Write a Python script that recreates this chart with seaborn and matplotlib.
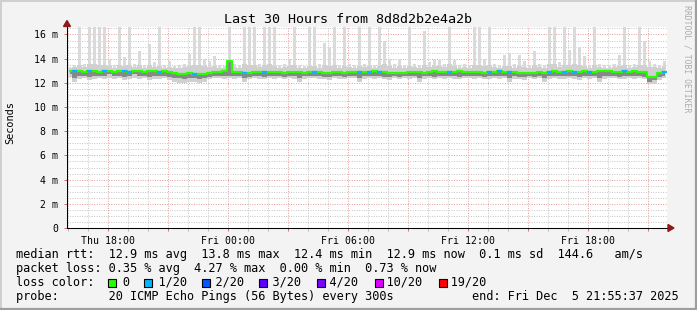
import numpy as np
import pandas as pd
import matplotlib
matplotlib.use("Agg")
import matplotlib.pyplot as plt
import matplotlib.dates as mdates
from matplotlib.ticker import FuncFormatter, MultipleLocator
from matplotlib.patches import Rectangle, Polygon
from matplotlib.lines import Line2D
import seaborn as sns

# ---------------- data (15-minute bins, 30 hours) ----------------
title = "Last 30 Hours from 8d8d2b2e4a2b"
start_time = "2025-12-04 15:55:37"
end_time = "2025-12-05 21:55:37"
bin_minutes = 15

median_ms = [13.0, 12.95, 12.95, 12.9, 12.95, 12.95, 12.9, 12.95, 12.95, 12.9,
             12.95, 12.95, 12.9, 12.95, 12.95, 12.9, 12.95, 12.95, 12.9, 12.95,
             12.9, 12.8, 12.75, 12.7, 12.8, 12.75, 12.7, 12.75, 12.85, 12.9,
             12.9, 12.95, 13.8, 12.9, 12.9, 12.85, 12.85, 12.9, 12.9, 12.9,
             12.9, 12.9, 12.9, 12.85, 12.9, 12.9, 12.9, 12.85, 12.9, 12.9,
             12.9, 12.85, 12.85, 12.9, 12.9, 12.85, 12.9, 12.9, 12.9, 12.9,
             12.9, 12.95, 12.9, 12.9, 12.85, 12.85, 12.8, 12.85, 12.9, 12.9,
             12.9, 12.85, 12.9, 12.95, 12.9, 12.9, 12.9, 12.9, 12.95, 12.9,
             12.9, 12.9, 12.9, 12.85, 12.9, 12.9, 12.95, 12.9, 12.9, 12.9,
             12.85, 12.85, 12.85, 12.85, 12.9, 12.8, 12.9, 12.95, 12.9, 12.9,
             12.95, 12.9, 12.9, 12.95, 12.9, 12.9, 13.0, 12.95, 12.95, 12.9,
             12.9, 12.95, 12.9, 12.95, 12.9, 12.9, 12.45, 12.5, 12.85, 12.9]

ping_max_ms = [13.3, 13.5, 16.7, 13.6, 16.7, 16.7, 16.7, 16.7, 14.0, 13.5,
               16.7, 14.1, 16.7, 13.6, 14.6, 13.5, 15.2, 13.7, 16.7, 13.5,
               13.8, 13.4, 13.5, 13.6, 14.4, 16.7, 16.7, 14.0, 13.8, 14.2,
               13.5, 13.4, 16.7, 13.6, 13.5, 16.7, 16.7, 16.7, 13.6, 16.7,
               16.7, 16.7, 13.5, 13.6, 14.0, 16.7, 13.5, 13.4, 16.7, 16.7,
               13.6, 15.3, 15.0, 16.7, 13.5, 16.7, 13.6, 13.5, 16.7, 13.6,
               16.7, 13.5, 16.7, 15.5, 14.0, 13.6, 14.0, 13.5, 16.7, 13.6,
               13.5, 16.3, 13.7, 14.0, 13.9, 13.6, 16.7, 13.9, 13.5, 13.6,
               13.5, 16.7, 16.7, 14.0, 16.7, 13.6, 13.5, 14.3, 14.5, 13.6,
               14.3, 13.8, 13.5, 14.6, 13.6, 13.5, 16.7, 16.7, 13.7, 16.7,
               14.7, 16.7, 15.0, 14.2, 13.5, 16.7, 13.6, 13.5, 13.4, 13.6,
               14.3, 16.7, 13.5, 13.6, 16.7, 15.5, 13.8, 13.6, 13.5, 13.8]

ping_hi_ms = [13.2, 13.3, 13.5, 13.3, 13.6, 13.6, 13.5, 13.5, 13.4, 13.2,
              13.5, 13.4, 13.5, 13.3, 13.5, 13.2, 13.5, 13.3, 13.4, 13.2,
              13.3, 13.2, 13.2, 13.3, 13.4, 13.5, 13.5, 13.4, 13.3, 13.4,
              13.2, 13.2, 13.9, 13.3, 13.2, 13.6, 13.5, 13.5, 13.3, 13.5,
              13.6, 13.4, 13.2, 13.3, 13.4, 13.5, 13.2, 13.2, 13.4, 13.4,
              13.2, 13.5, 13.4, 13.5, 13.2, 13.4, 13.3, 13.2, 13.4, 13.3,
              13.4, 13.2, 13.4, 13.6, 13.4, 13.2, 13.4, 13.2, 13.4, 13.3,
              13.2, 13.5, 13.3, 13.4, 13.4, 13.3, 13.6, 13.4, 13.2, 13.3,
              13.2, 13.5, 13.5, 13.4, 13.5, 13.3, 13.2, 13.4, 13.4, 13.2,
              13.4, 13.3, 13.2, 13.5, 13.3, 13.2, 13.6, 13.6, 13.3, 13.5,
              13.5, 13.6, 13.5, 13.4, 13.2, 13.5, 13.3, 13.2, 13.2, 13.3,
              13.4, 13.5, 13.2, 13.3, 13.5, 13.5, 13.3, 13.3, 13.2, 13.4]

ping_lo_ms = [12.7, 12.4, 12.6, 12.6, 12.5, 12.6, 12.6, 12.6, 12.7, 12.6,
              12.6, 12.5, 12.6, 12.7, 12.6, 12.6, 12.5, 12.6, 12.6, 12.6,
              12.5, 12.4, 12.4, 12.3, 12.4, 12.4, 12.3, 12.4, 12.5, 12.6,
              12.6, 12.6, 12.6, 12.6, 12.6, 12.4, 12.5, 12.6, 12.6, 12.5,
              12.6, 12.6, 12.6, 12.5, 12.6, 12.6, 12.4, 12.6, 12.6, 12.6,
              12.6, 12.5, 12.5, 12.6, 12.6, 12.5, 12.6, 12.6, 12.4, 12.6,
              12.6, 12.6, 12.6, 12.5, 12.5, 12.6, 12.5, 12.6, 12.6, 12.6,
              12.4, 12.6, 12.6, 12.5, 12.6, 12.6, 12.6, 12.6, 12.5, 12.6,
              12.6, 12.6, 12.6, 12.5, 12.6, 12.6, 12.6, 12.6, 12.4, 12.6,
              12.5, 12.5, 12.6, 12.5, 12.6, 12.4, 12.6, 12.6, 12.6, 12.6,
              12.6, 12.6, 12.5, 12.6, 12.6, 12.6, 12.4, 12.6, 12.6, 12.6,
              12.5, 12.6, 12.6, 12.6, 12.6, 12.5, 12.1, 12.2, 12.5, 12.6]

ping_min_ms = [12.5, 12.1, 12.3, 12.4, 12.2, 12.3, 12.4, 12.3, 12.4, 12.3,
               12.4, 12.2, 12.3, 12.4, 12.3, 12.4, 12.2, 12.3, 12.3, 12.4,
               12.2, 12.1, 12.0, 12.0, 12.1, 12.1, 12.0, 12.1, 12.3, 12.4,
               12.4, 12.3, 12.4, 12.3, 12.4, 12.1, 12.3, 12.4, 12.3, 12.3,
               12.4, 12.3, 12.4, 12.3, 12.4, 12.3, 12.1, 12.3, 12.4, 12.4,
               12.3, 12.3, 12.2, 12.4, 12.3, 12.3, 12.4, 12.4, 12.1, 12.3,
               12.4, 12.3, 12.4, 12.3, 12.2, 12.4, 12.3, 12.4, 12.3, 12.4,
               12.1, 12.3, 12.4, 12.3, 12.4, 12.3, 12.4, 12.3, 12.3, 12.4,
               12.4, 12.3, 12.4, 12.3, 12.3, 12.4, 12.3, 12.4, 12.1, 12.3,
               12.3, 12.2, 12.4, 12.3, 12.4, 12.1, 12.3, 12.4, 12.3, 12.3,
               12.4, 12.3, 12.2, 12.4, 12.3, 12.4, 12.1, 12.3, 12.4, 12.4,
               12.3, 12.3, 12.4, 12.3, 12.4, 12.3, 11.9, 11.9, 12.2, 12.4]

loss_count = [0, 1, 0, 0, 1, 0, 0, 1, 0, 0,
              0, 1, 1, 0, 0, 0, 0, 0, 1, 0,
              0, 0, 0, 0, 0, 1, 0, 0, 0, 0,
              0, 0, 0, 0, 0, 1, 0, 0, 0, 1,
              0, 0, 0, 0, 0, 0, 0, 0, 0, 1,
              0, 0, 0, 0, 0, 0, 0, 0, 1, 0,
              1, 0, 1, 0, 0, 0, 0, 0, 0, 0,
              0, 0, 0, 0, 0, 0, 1, 0, 0, 0,
              0, 0, 0, 0, 1, 0, 1, 0, 1, 0,
              0, 0, 0, 0, 0, 0, 1, 0, 0, 1,
              0, 1, 0, 0, 1, 0, 0, 0, 0, 0,
              0, 1, 0, 0, 0, 0, 0, 0, 0, 1]

loss_labels = ["0", "1/20", "2/20", "3/20", "4/20", "10/20", "19/20"]
loss_levels = [0, 1, 2, 3, 4, 10, 19]
loss_colors = ["#26FF00", "#00B8FF", "#0059FF", "#5E00FF", "#7E00FF", "#DD00FF", "#FF0000"]

y_ticks = [0, 2, 4, 6, 8, 10, 12, 14, 16]

stats_rtt = "median rtt:  12.9 ms avg  13.8 ms max  12.4 ms min  12.9 ms now  0.1 ms sd  144.6   am/s"
stats_loss = "packet loss: 0.35 % avg  4.27 % max  0.00 % min  0.73 % now"
probe_line = "probe:       20 ICMP Echo Pings (56 Bytes) every 300s           end: Fri Dec  5 21:55:37 2025"
credit = "RRDTOOL / TOBI OETIKER"

# ---------------- style ----------------
sns.set_theme(style="white")
plt.rcParams["font.family"] = ["DejaVu Sans Mono", "DejaVu Sans"]
plt.rcParams["axes.linewidth"] = 0.75

W, H = 697, 310
fig = plt.figure(figsize=(W / 100, H / 100), dpi=100, facecolor="#F3F3F3")
PL, PR, PT, PB = 67, 667, 27, 228
ax = fig.add_axes([PL / W, 1 - PB / H, (PR - PL) / W, (PB - PT) / H])
ax.set_facecolor("white")

t0 = pd.Timestamp(start_time)
t1 = pd.Timestamp(end_time)
bw = bin_minutes / 1440.0
times = t0 + pd.to_timedelta(np.arange(len(median_ms)) * bin_minutes + bin_minutes / 2, unit="min")
df = pd.DataFrame({"time": times, "median": median_ms, "pmax": ping_max_ms,
                   "phi": ping_hi_ms, "plo": ping_lo_ms, "pmin": ping_min_ms,
                   "loss": loss_count})

# smoke
ax.bar(df["time"], df["pmax"] - df["pmin"], bottom=df["pmin"], width=bw * 0.5,
       color="#DADADA", linewidth=0, zorder=2)
ax.fill_between(df["time"], df["pmin"], df["phi"], step="mid", color="#D0D0D0", lw=0, zorder=3)
ax.fill_between(df["time"], df["plo"], df["median"], step="mid", color="#888888", lw=0, zorder=4)

# median line coloured by loss
sns.lineplot(data=df, x="time", y="median", color=loss_colors[0], lw=1.6,
             drawstyle="steps-mid", ax=ax, zorder=6)
for lvl, col in zip(loss_levels[1:], loss_colors[1:]):
    sub = df[df["loss"] == lvl]
    if len(sub):
        ax.hlines(sub["median"], sub["time"] - pd.Timedelta(minutes=bin_minutes / 2),
                  sub["time"] + pd.Timedelta(minutes=bin_minutes / 2),
                  color=col, lw=1.6, zorder=7)

# axes & grid
ax.set_xlim(t0, t1)
ax.set_ylim(0, 16.62)
ax.set_xlabel("")
ax.set_ylabel("")
ax.xaxis.set_major_locator(mdates.HourLocator(byhour=range(0, 24, 3)))
ax.xaxis.set_minor_locator(mdates.HourLocator())

def xfmt(v, p):
    d = mdates.num2date(v)
    return d.strftime("%a %H:%M") if d.hour % 6 == 0 else ""

ax.xaxis.set_major_formatter(FuncFormatter(xfmt))
ax.set_yticks(y_ticks)
ax.yaxis.set_minor_locator(MultipleLocator(0.5))
ax.yaxis.set_major_formatter(FuncFormatter(lambda v, p: "0" if v == 0 else f"{int(v)} m"))

ax.grid(which="minor", color="#C4C4C4", ls=(0, (1, 1.5)), lw=0.7, zorder=1)
ax.grid(which="major", color="#E49A9A", ls=(0, (1, 1.5)), lw=0.7, zorder=1)
ax.set_axisbelow(True)

for s in ["top", "right"]:
    ax.spines[s].set_visible(False)
ax.spines["left"].set_color("black")
ax.spines["bottom"].set_color("black")
ax.spines["left"].set_zorder(10)
ax.spines["bottom"].set_zorder(10)

ax.tick_params(axis="x", which="major", length=2.5, width=0.7, color="#D07070",
               labelsize=7.1, pad=3.0, labelcolor="black", bottom=True)
ax.tick_params(axis="x", which="minor", length=2, width=0.7, color="#B8B8B8", bottom=True)
ax.tick_params(axis="y", which="major", length=2.5, width=0.7, color="#D07070",
               labelsize=7.1, pad=4.0, labelcolor="black", left=True)
ax.tick_params(axis="y", which="minor", length=0)

# axis extension and arrows
def fx(x):
    return x / W

def fy(y):
    return 1 - y / H

fig.add_artist(Line2D([fx(PR), fx(669)], [fy(PB), fy(PB)], color="black", lw=0.75,
                      transform=fig.transFigure))
fig.add_artist(Polygon([(fx(668), fy(224.5)), (fx(668), fy(231.5)), (fx(674), fy(228))],
                       closed=True, transform=fig.transFigure, color="#8E1A1A", zorder=20))
fig.add_artist(Polygon([(fx(63.5), fy(26.5)), (fx(70.5), fy(26.5)), (fx(67), fy(20.5))],
                       closed=True, transform=fig.transFigure, color="#8E1A1A", zorder=20))

# texts
fig.text(0.5, fy(19.3), title, ha="center", va="center", fontsize=9.6, color="black")
fig.text(fx(10.5), fy(123), "Seconds", rotation=90, ha="center", va="center",
         fontsize=7.4, color="black")
fig.text(fx(687.5), fy(5), credit, rotation=270, ha="center", va="top",
         fontsize=5.9, color="#ABABAB")

fs = 8.6
cw = 0.602 * fs * 100 / 72.0
x0 = 16
fig.text(fx(x0), fy(254.3), stats_rtt, ha="left", va="center", fontsize=fs, color="black")
fig.text(fx(x0), fy(268.3), stats_loss, ha="left", va="center", fontsize=fs, color="black")
row = "loss color:  "
sq_idx = []
for lab in loss_labels:
    sq_idx.append(len(row))
    row += "  " + lab + "  "
fig.text(fx(x0), fy(282.3), row.rstrip(), ha="left", va="center", fontsize=fs, color="black")
for idx, col in zip(sq_idx, loss_colors):
    xl = x0 + idx * cw - 1.0
    fig.add_artist(Rectangle((fx(xl), fy(286.5)), 8 / W, 8 / H, transform=fig.transFigure,
                             facecolor=col, edgecolor="black", lw=0.8, zorder=20))
fig.text(fx(x0), fy(296.3), probe_line, ha="left", va="center", fontsize=fs, color="black")

# frame of the image
fig.add_artist(Line2D([0, 1], [fy(0.5), fy(0.5)], color="#CFCFCF", lw=1.4, transform=fig.transFigure))
fig.add_artist(Line2D([fx(0.5), fx(0.5)], [0, 1], color="#CFCFCF", lw=1.4, transform=fig.transFigure))
fig.add_artist(Line2D([0, 1], [fy(309), fy(309)], color="#9E9E9E", lw=1.6, transform=fig.transFigure))
fig.add_artist(Line2D([fx(696), fx(696)], [0, 1], color="#9E9E9E", lw=1.6, transform=fig.transFigure))

fig.savefig("out.png", dpi=100, facecolor=fig.get_facecolor())
